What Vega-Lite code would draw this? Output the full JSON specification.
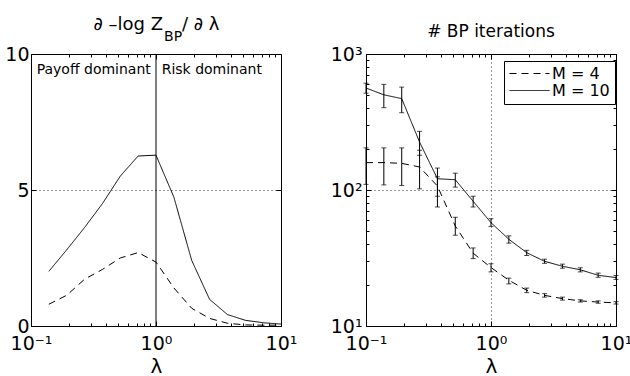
{
  "$schema": "https://vega.github.io/schema/vega-lite/v6.json",
  "background": "white",
  "padding": {"left": 4, "top": 15, "right": 0, "bottom": 0},
  "spacing": 31,
  "config": {
    "font": "DejaVu Sans",
    "view": {"stroke": "black", "strokeWidth": 1},
    "axis": {
      "domain": false,
      "labelFont": "DejaVu Sans",
      "labelFontSize": 19,
      "labelColor": "black",
      "tickColor": "black",
      "tickSize": -5,
      "labelPadding": 13,
      "titleFont": "DejaVu Sans",
      "titleFontSize": 20,
      "titleFontWeight": "normal",
      "titleColor": "black",
      "titlePadding": 3,
      "gridColor": "black",
      "gridDash": [1, 3],
      "gridOpacity": 0.8,
      "labelFlush": false
    },
    "title": {"font": "DejaVu Sans", "fontSize": 17, "fontWeight": "normal", "color": "black"}
  },
  "datasets": {
    "left": [
      {"lam": 0.1389, "val": 2.01, "M": "M = 10"},
      {"lam": 0.1931, "val": 2.80, "M": "M = 10"},
      {"lam": 0.2683, "val": 3.62, "M": "M = 10"},
      {"lam": 0.3728, "val": 4.50, "M": "M = 10"},
      {"lam": 0.5179, "val": 5.51, "M": "M = 10"},
      {"lam": 0.7197, "val": 6.25, "M": "M = 10"},
      {"lam": 1.0, "val": 6.28, "M": "M = 10"},
      {"lam": 1.3895, "val": 4.74, "M": "M = 10"},
      {"lam": 1.9307, "val": 2.41, "M": "M = 10"},
      {"lam": 2.6827, "val": 0.98, "M": "M = 10"},
      {"lam": 3.7276, "val": 0.42, "M": "M = 10"},
      {"lam": 5.1795, "val": 0.21, "M": "M = 10"},
      {"lam": 7.1969, "val": 0.12, "M": "M = 10"},
      {"lam": 10.0, "val": 0.07, "M": "M = 10"},
      {"lam": 0.1389, "val": 0.80, "M": "M = 4"},
      {"lam": 0.1931, "val": 1.13, "M": "M = 4"},
      {"lam": 0.2683, "val": 1.72, "M": "M = 4"},
      {"lam": 0.3728, "val": 2.08, "M": "M = 4"},
      {"lam": 0.5179, "val": 2.50, "M": "M = 4"},
      {"lam": 0.7197, "val": 2.70, "M": "M = 4"},
      {"lam": 1.0, "val": 2.35, "M": "M = 4"},
      {"lam": 1.3895, "val": 1.40, "M": "M = 4"},
      {"lam": 1.9307, "val": 0.65, "M": "M = 4"},
      {"lam": 2.6827, "val": 0.28, "M": "M = 4"},
      {"lam": 3.7276, "val": 0.10, "M": "M = 4"},
      {"lam": 5.1795, "val": 0.04, "M": "M = 4"},
      {"lam": 7.1969, "val": 0.03, "M": "M = 4"},
      {"lam": 10.0, "val": 0.03, "M": "M = 4"}
    ],
    "right": [
      {"lam": 0.1, "y": 562, "lo": 515, "hi": 610, "M": "M = 10"},
      {"lam": 0.1389, "y": 501, "lo": 403, "hi": 598, "M": "M = 10"},
      {"lam": 0.1931, "y": 470, "lo": 370, "hi": 571, "M": "M = 10"},
      {"lam": 0.2683, "y": 225, "lo": 180, "hi": 270, "M": "M = 10"},
      {"lam": 0.3728, "y": 121, "lo": 75, "hi": 145, "M": "M = 10"},
      {"lam": 0.5179, "y": 119, "lo": 105, "hi": 133, "M": "M = 10"},
      {"lam": 0.7197, "y": 82.6, "lo": 75, "hi": 90, "M": "M = 10"},
      {"lam": 1.0, "y": 57.5, "lo": 54, "hi": 61.5, "M": "M = 10"},
      {"lam": 1.3895, "y": 43.4, "lo": 40.7, "hi": 46, "M": "M = 10"},
      {"lam": 1.9307, "y": 34.6, "lo": 33, "hi": 36, "M": "M = 10"},
      {"lam": 2.6827, "y": 29.9, "lo": 28.9, "hi": 31, "M": "M = 10"},
      {"lam": 3.7276, "y": 27.5, "lo": 26.6, "hi": 28.5, "M": "M = 10"},
      {"lam": 5.1795, "y": 25.9, "lo": 25, "hi": 26.8, "M": "M = 10"},
      {"lam": 7.1969, "y": 23.6, "lo": 22.8, "hi": 24.5, "M": "M = 10"},
      {"lam": 10.0, "y": 22.7, "lo": 22, "hi": 23.5, "M": "M = 10"},
      {"lam": 0.1, "y": 159, "lo": 110, "hi": 204, "M": "M = 4"},
      {"lam": 0.1389, "y": 159, "lo": 109, "hi": 204, "M": "M = 4"},
      {"lam": 0.1931, "y": 157, "lo": 108, "hi": 204, "M": "M = 4"},
      {"lam": 0.2683, "y": 147.6, "lo": 102, "hi": 196, "M": "M = 4"},
      {"lam": 0.3728, "y": 107, "lo": 90, "hi": 125, "M": "M = 4"},
      {"lam": 0.5179, "y": 54.3, "lo": 46.5, "hi": 63, "M": "M = 4"},
      {"lam": 0.7197, "y": 34.3, "lo": 31.3, "hi": 37.5, "M": "M = 4"},
      {"lam": 1.0, "y": 26.9, "lo": 25, "hi": 28.7, "M": "M = 4"},
      {"lam": 1.3895, "y": 21.7, "lo": 20.4, "hi": 22.5, "M": "M = 4"},
      {"lam": 1.9307, "y": 18.3, "lo": 17.6, "hi": 19.0, "M": "M = 4"},
      {"lam": 2.6827, "y": 16.8, "lo": 16.3, "hi": 17.3, "M": "M = 4"},
      {"lam": 3.7276, "y": 15.9, "lo": 15.5, "hi": 16.3, "M": "M = 4"},
      {"lam": 5.1795, "y": 15.3, "lo": 15.0, "hi": 15.6, "M": "M = 4"},
      {"lam": 7.1969, "y": 15.0, "lo": 14.7, "hi": 15.3, "M": "M = 4"},
      {"lam": 10.0, "y": 14.8, "lo": 14.5, "hi": 15.1, "M": "M = 4"}
    ]
  },
  "resolve": {"scale": {"strokeDash": "independent"}, "legend": {"strokeDash": "independent"}},
  "hconcat": [
    {
      "width": 250,
      "height": 272,
      "resolve": {"axis": {"x": "independent", "y": "independent"}},
      "layer": [
        {
          "data": {"name": "left"},
          "mark": {"type": "line", "color": "black", "strokeWidth": 1},
          "encoding": {
            "x": {"field": "lam", "type": "quantitative", "scale": {"type": "log", "domain": [0.1, 10]},
                  "axis": {"values": [0.1, 1, 10], "title": "λ", "grid": false,
                           "labelExpr": "datum.value < 0.5 ? '10⁻¹' : datum.value < 5 ? '10⁰' : '10¹'"}},
            "y": {"field": "val", "type": "quantitative", "scale": {"domain": [0, 10]},
                  "axis": {"values": [0, 5, 10], "title": null, "grid": true, "labelPadding": 7}},
            "strokeDash": {"field": "M", "type": "nominal",
                           "scale": {"domain": ["M = 4", "M = 10"], "range": [[7, 5], [1, 0]]}, "legend": null}
          }
        },
        {
          "data": {"values": [{}]},
          "mark": {"type": "rule", "color": "black", "strokeWidth": 1},
          "encoding": {"x": {"datum": 1, "axis": null}}
        },
        {
          "data": {"values": [{}]},
          "mark": {"type": "text", "text": ""},
          "encoding": {
            "x": {"datum": 1, "axis": {"orient": "top", "values": [0.1, 1, 10], "labels": false, "title": null, "grid": false}},
            "y": {"datum": 5, "axis": {"orient": "right", "values": [0, 5, 10], "labels": false, "title": null, "grid": false}}
          }
        },
        {
          "data": {"values": [{}]},
          "mark": {"type": "text", "text": ""},
          "encoding": {
            "x": {"datum": 1, "axis": {"orient": "bottom", "values": [0.2, 0.3, 0.4, 0.5, 0.6, 0.7, 0.8, 0.9, 2, 3, 4, 5, 6, 7, 8, 9], "labels": false, "title": null, "grid": false, "tickSize": -3}}
          }
        },
        {
          "data": {"values": [{}]},
          "mark": {"type": "text", "text": ""},
          "encoding": {
            "x": {"datum": 1, "axis": {"orient": "top", "values": [0.2, 0.3, 0.4, 0.5, 0.6, 0.7, 0.8, 0.9, 2, 3, 4, 5, 6, 7, 8, 9], "labels": false, "title": null, "grid": false, "tickSize": -3}}
          }
        },
        {
          "data": {"values": [{"label": "Payoff dominant", "px": 0.111}, {"label": "Risk dominant", "px": 1.11}]},
          "mark": {"type": "text", "align": "left", "baseline": "middle", "fontSize": 14, "color": "black"},
          "encoding": {"x": {"field": "px", "type": "quantitative", "axis": null}, "y": {"datum": 9.4, "axis": null}, "text": {"field": "label"}}
        },
        {
          "data": {"values": [{}]},
          "mark": {"type": "text", "align": "right", "baseline": "alphabetic", "fontSize": 18, "color": "black"},
          "encoding": {"x": {"datum": 1.14, "axis": null}, "y": {"datum": 10.9, "axis": null}, "text": {"value": "∂ –log Z"}}
        },
        {
          "data": {"values": [{}]},
          "mark": {"type": "text", "align": "left", "baseline": "alphabetic", "fontSize": 14, "color": "black"},
          "encoding": {"x": {"datum": 1.16, "axis": null}, "y": {"datum": 10.48, "axis": null}, "text": {"value": "BP"}}
        },
        {
          "data": {"values": [{}]},
          "mark": {"type": "text", "align": "left", "baseline": "alphabetic", "fontSize": 18, "color": "black"},
          "encoding": {"x": {"datum": 1.615, "axis": null}, "y": {"datum": 10.9, "axis": null}, "text": {"value": "/ ∂ λ"}}
        }
      ]
    },
    {
      "width": 250,
      "height": 272,
      "title": {"text": "# BP iterations", "offset": 4},
      "resolve": {"axis": {"x": "independent", "y": "independent"}},
      "layer": [
        {
          "data": {"name": "right"},
          "mark": {"type": "line", "color": "black", "strokeWidth": 1},
          "encoding": {
            "x": {"field": "lam", "type": "quantitative", "scale": {"type": "log", "domain": [0.1, 10]},
                  "axis": {"values": [0.1, 1, 10], "title": "λ", "grid": true,
                           "labelExpr": "datum.value < 0.5 ? '10⁻¹' : datum.value < 5 ? '10⁰' : '10¹'"}},
            "y": {"field": "y", "type": "quantitative", "scale": {"type": "log", "domain": [10, 1000]},
                  "axis": {"values": [10, 100, 1000], "title": null, "grid": true, "labelPadding": 9,
                           "labelExpr": "datum.value < 50 ? '10¹' : datum.value < 500 ? '10²' : '10³'"}},
            "strokeDash": {"field": "M", "type": "nominal",
                           "scale": {"domain": ["M = 4", "M = 10"], "range": [[7, 5], [1, 0]]},
                           "legend": {"title": null, "orient": "none", "legendX": 138, "legendY": 7,
                                      "symbolType": "stroke", "symbolStrokeColor": "black", "symbolStrokeWidth": 1,
                                      "symbolSize": 1600, "labelFontSize": 16, "labelColor": "black",
                                      "strokeColor": "black", "fillColor": "white", "padding": 5,
                                      "rowPadding": 0, "labelOffset": 2, "clipHeight": 15}}
          }
        },
        {
          "data": {"name": "right"},
          "mark": {"type": "rule", "color": "black", "strokeWidth": 1},
          "encoding": {
            "x": {"field": "lam", "type": "quantitative", "axis": null},
            "y": {"field": "lo", "type": "quantitative", "axis": null},
            "y2": {"field": "hi"}
          }
        },
        {
          "data": {"name": "right"},
          "mark": {"type": "tick", "orient": "horizontal", "size": 5, "thickness": 1, "color": "black"},
          "encoding": {
            "x": {"field": "lam", "type": "quantitative", "axis": null},
            "y": {"field": "lo", "type": "quantitative", "axis": null}
          }
        },
        {
          "data": {"name": "right"},
          "mark": {"type": "tick", "orient": "horizontal", "size": 5, "thickness": 1, "color": "black"},
          "encoding": {
            "x": {"field": "lam", "type": "quantitative", "axis": null},
            "y": {"field": "hi", "type": "quantitative", "axis": null}
          }
        },
        {
          "data": {"values": [{}]},
          "mark": {"type": "text", "text": ""},
          "encoding": {
            "x": {"datum": 1, "axis": {"orient": "top", "values": [0.1, 1, 10], "labels": false, "title": null, "grid": false}},
            "y": {"datum": 100, "axis": {"orient": "right", "values": [10, 100, 1000], "labels": false, "title": null, "grid": false}}
          }
        },
        {
          "data": {"values": [{}]},
          "mark": {"type": "text", "text": ""},
          "encoding": {
            "x": {"datum": 1, "axis": {"orient": "bottom", "values": [0.2, 0.3, 0.4, 0.5, 0.6, 0.7, 0.8, 0.9, 2, 3, 4, 5, 6, 7, 8, 9], "labels": false, "title": null, "grid": false, "tickSize": -3}},
            "y": {"datum": 100, "axis": {"orient": "left", "values": [20, 30, 40, 50, 60, 70, 80, 90, 200, 300, 400, 500, 600, 700, 800, 900], "labels": false, "title": null, "grid": false, "tickSize": -3}}
          }
        },
        {
          "data": {"values": [{}]},
          "mark": {"type": "text", "text": ""},
          "encoding": {
            "x": {"datum": 1, "axis": {"orient": "top", "values": [0.2, 0.3, 0.4, 0.5, 0.6, 0.7, 0.8, 0.9, 2, 3, 4, 5, 6, 7, 8, 9], "labels": false, "title": null, "grid": false, "tickSize": -3}},
            "y": {"datum": 100, "axis": {"orient": "right", "values": [20, 30, 40, 50, 60, 70, 80, 90, 200, 300, 400, 500, 600, 700, 800, 900], "labels": false, "title": null, "grid": false, "tickSize": -3}}
          }
        }
      ]
    }
  ]
}
